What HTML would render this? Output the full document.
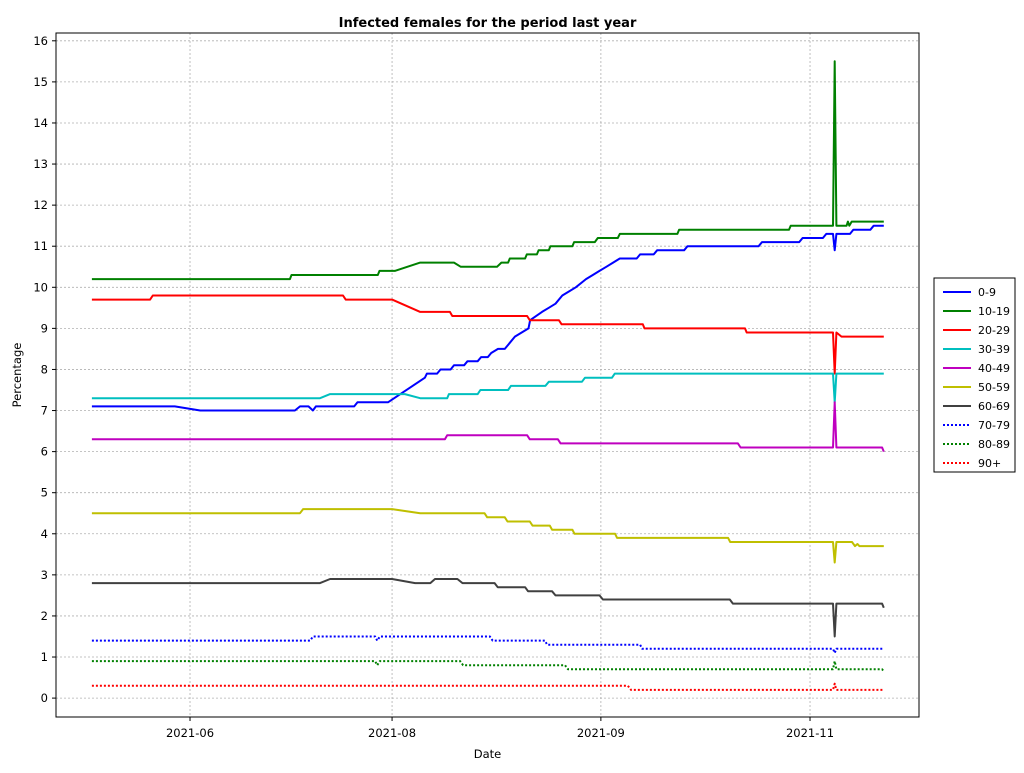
<!DOCTYPE html>
<html><head><meta charset="utf-8"><style>
body{margin:0;background:#fff;font-family:"Liberation Sans","DejaVu Sans",sans-serif;}
svg text{font-family:"DejaVu Sans","Liberation Sans",sans-serif;}
</style></head><body>
<svg id="chart" width="1024" height="768" xmlns="http://www.w3.org/2000/svg"></svg>
<script>
const seriesNames=["0-9","10-19","20-29","30-39","40-49","50-59","60-69","70-79","80-89","90+"];
const seriesColors=["#0000ff","#008000","#ff0000","#00bfbf","#bf00bf","#bfbf00","#404040","#0000ff","#008000","#ff0000"];
const seriesDashed=[false,false,false,false,false,false,false,true,true,true];
const xTickDays=[0,59.7,121.4,183.2];
const xTickLabels=["2021-06","2021-08","2021-09","2021-11"];
const yTicks=[0,1,2,3,4,5,6,7,8,9,10,11,12,13,14,15,16];
const s0=[[-29,7.1],[-4.5,7.1],[3,7.0],[31,7.0],[32.5,7.1],[35,7.1],[36.3,7.0],[37.2,7.1],[48.5,7.1],[49.5,7.2],[58.5,7.2],[69.4,7.8],[70,7.9],[73,7.9],[74,8.0],[77,8.0],[78,8.1],[81,8.1],[82,8.2],[85,8.2],[86,8.3],[88,8.3],[89,8.4],[91,8.5],[93,8.5],[96,8.8],[98,8.9],[100,9.0],[100.5,9.2],[104,9.4],[106,9.5],[108,9.6],[110,9.8],[112,9.9],[114,10.0],[117,10.2],[119,10.3],[121,10.4],[123,10.5],[125,10.6],[127,10.7],[132,10.7],[133,10.8],[137,10.8],[138,10.9],[146,10.9],[147,11.0],[168,11.0],[169,11.1],[180,11.1],[181,11.2],[187,11.2],[188,11.3],[190,11.3],[190.5,10.9],[191,11.3],[195,11.3],[196,11.4],[201,11.4],[202,11.5],[205,11.5]];
const s1=[[-29,10.2],[29.5,10.2],[30,10.3],[55.5,10.3],[56,10.4],[60.5,10.4],[68,10.6],[78,10.6],[80,10.5],[90.7,10.5],[92,10.6],[94,10.6],[94.5,10.7],[99,10.7],[99.5,10.8],[102.5,10.8],[103,10.9],[106,10.9],[106.5,11.0],[113,11.0],[113.5,11.1],[119.6,11.1],[120.5,11.2],[126.4,11.2],[127,11.3],[144,11.3],[144.5,11.4],[177,11.4],[177.5,11.5],[190,11.5],[190.5,15.5],[191,11.5],[194,11.5],[194.4,11.6],[194.8,11.5],[195.5,11.6],[205,11.6]];
const s2=[[-29,9.7],[-11.8,9.7],[-11,9.8],[45.2,9.8],[46,9.7],[59.7,9.7],[68,9.4],[76.8,9.4],[77.5,9.3],[99.6,9.3],[100.4,9.2],[109,9.2],[109.8,9.1],[133.8,9.1],[134.3,9.0],[164,9.0],[164.5,8.9],[190,8.9],[190.5,7.9],[191,8.9],[192.5,8.8],[205,8.8]];
const s3=[[-29,7.3],[38.4,7.3],[41.4,7.4],[63.5,7.4],[68,7.3],[76,7.3],[76.5,7.4],[85,7.4],[85.8,7.5],[94,7.5],[94.8,7.6],[105,7.6],[106,7.7],[115.8,7.7],[116.7,7.8],[124.7,7.8],[125.5,7.9],[190,7.9],[190.5,7.2],[191,7.9],[205,7.9]];
const s4=[[-29,6.3],[75.3,6.3],[76,6.4],[99.6,6.4],[100.4,6.3],[108.7,6.3],[109.5,6.2],[161.9,6.2],[162.7,6.1],[190,6.1],[190.5,7.2],[191,6.1],[204.5,6.1],[205,6.0]];
const s5=[[-29,4.5],[32.5,4.5],[33.4,4.6],[59.7,4.6],[68,4.5],[87,4.5],[87.8,4.4],[93,4.4],[93.8,4.3],[100.4,4.3],[101.2,4.2],[106.3,4.2],[107,4.1],[113,4.1],[113.6,4.0],[125.6,4.0],[126.2,3.9],[159,3.9],[159.6,3.8],[190,3.8],[190.5,3.3],[191,3.8],[195.6,3.8],[196.5,3.7],[197.2,3.75],[197.8,3.7],[205,3.7]];
const s6=[[-29,2.8],[38.4,2.8],[41.4,2.9],[59.7,2.9],[66.5,2.8],[71,2.8],[72.4,2.9],[79,2.9],[80.5,2.8],[90,2.8],[90.9,2.7],[99,2.7],[99.9,2.6],[107,2.6],[108,2.5],[121,2.5],[122,2.4],[159.5,2.4],[160.4,2.3],[190,2.3],[190.5,1.5],[191,2.3],[204.5,2.3],[205,2.2]];
const s7=[[-29,1.4],[35.5,1.4],[36.3,1.5],[54.7,1.5],[55.3,1.4],[56.1,1.5],[88.6,1.5],[89.4,1.4],[104.9,1.4],[105.5,1.3],[133,1.3],[133.6,1.2],[190,1.2],[190.5,1.1],[191,1.2],[205,1.2]];
const s8=[[-29,0.9],[54.7,0.9],[55.3,0.8],[56.1,0.9],[79.8,0.9],[80.7,0.8],[110.8,0.8],[111.7,0.7],[190,0.7],[190.5,0.9],[191,0.7],[204.5,0.7],[205,0.65]];
const s9=[[-29,0.3],[129.4,0.3],[130.3,0.2],[190,0.2],[190.5,0.35],[191,0.2],[205,0.2]];
const allSeries=[s0,s1,s2,s3,s4,s5,s6,s7,s8,s9];

const L=56,T=33,R=919,B=717;
const xMin=-39.6,xMax=215.4,yMin=-0.46,yMax=16.19;
const xs=d=>L+(d-xMin)/(xMax-xMin)*(R-L);
const ys=v=>B-(v-yMin)/(yMax-yMin)*(B-T);
const NS="http://www.w3.org/2000/svg";
const svg=document.getElementById('chart');
function mk(tag,attrs,parent){const e=document.createElementNS(NS,tag);for(const k in attrs)e.setAttribute(k,attrs[k]);(parent||svg).appendChild(e);return e;}

const grid=mk('g',{});


yTicks.forEach(v=>{
  const y=ys(v);
  const gl=mk('line',{x1:L,x2:R,y1:y,y2:y,stroke:'#b0b0b0','stroke-width':0.8,'stroke-dasharray':'2,2'},grid);
  
  
  const tk=mk('line',{x1:L-4,x2:L,y1:y,y2:y,stroke:'#000'});
  
  
  const t=mk('text',{x:L-8,y:y+4,'text-anchor':'end','font-size':11.5,fill:'#000'});
  t.textContent=v;
  
  
});
xTickDays.forEach((d,i)=>{
  const x=xs(d);
  const gl=mk('line',{x1:x,x2:x,y1:T,y2:B,stroke:'#b0b0b0','stroke-width':0.8,'stroke-dasharray':'2,2'},grid);
  
  
  const tk=mk('line',{x1:x,x2:x,y1:B,y2:B+4,stroke:'#000'});
  
  
  const t=mk('text',{x:x,y:B+20,'text-anchor':'middle','font-size':11.5,fill:'#000'});
  t.textContent=xTickLabels[i];
  
  
});

allSeries.forEach((s,i)=>{
  const pts=s.map(p=>xs(p[0]).toFixed(1)+','+ys(p[1]).toFixed(1)).join(' ');
  const pl=mk('polyline',{points:pts,fill:'none',stroke:seriesColors[i],'stroke-width':2,'stroke-linejoin':'round'});
  if(seriesDashed[i])pl.setAttribute('stroke-dasharray','2,2');
  
  
});

const frame=mk('rect',{x:L,y:T,width:R-L,height:B-T,fill:'none',stroke:'#000','stroke-width':1});



const title=mk('text',{x:(L+R)/2,y:27,'text-anchor':'middle','font-size':13,'font-weight':'bold',fill:'#000'});
title.textContent='Infected females for the period last year';


const xt=mk('text',{x:(L+R)/2,y:758,'text-anchor':'middle','font-size':11.5,fill:'#000'});
xt.textContent='Date';


const yt=mk('text',{x:21,y:(T+B)/2,'text-anchor':'middle','font-size':11.5,fill:'#000',transform:'rotate(-90 21 '+((T+B)/2)+')'});
yt.textContent='Percentage';



const lg=mk('g',{});


const lbox=mk('rect',{x:934,y:278,width:81,height:194,fill:'#fff',stroke:'#000','stroke-width':1},lg);


seriesNames.forEach((n,i)=>{
  const y=292+i*19;
  const ll=mk('line',{x1:943,x2:971,y1:y,y2:y,stroke:seriesColors[i],'stroke-width':2},lg);
  if(seriesDashed[i])ll.setAttribute('stroke-dasharray','2,2');
  
  
  const lt=mk('text',{x:978,y:y+4,'font-size':11,fill:'#000'},lg);
  lt.textContent=n;
  
  
});
</script>
</body></html>
